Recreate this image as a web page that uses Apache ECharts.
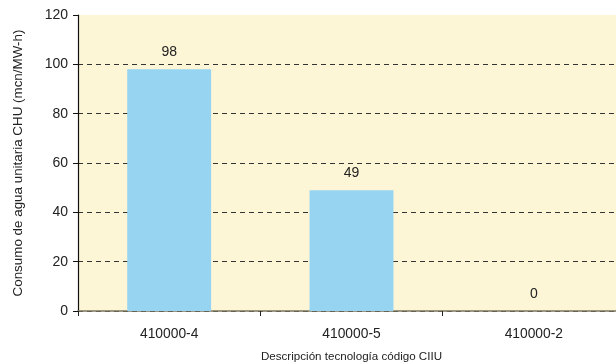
<!DOCTYPE html>
<html>
<head>
<meta charset="utf-8">
<script src="https://cdn.jsdelivr.net/npm/echarts@6/dist/echarts.min.js"></script>
<style>
  html, body { margin: 0; padding: 0; background: #ffffff; }
  #chart { width: 616px; height: 364px; }
</style>
</head>
<body>
<div id="chart"></div>
<script>
// Water consumption per technology code
const categories = ['410000-4', '410000-5', '410000-2'];
const consumo = [98, 49, 0];
const yTicks = { min: 0, max: 120, interval: 20 };

const chart = echarts.init(document.getElementById('chart'));
const font = 'Liberation Sans, Arial, sans-serif';

chart.setOption({
  animation: false,
  textStyle: { fontFamily: font },
  grid: {
    left: 78, top: 15, width: 547, height: 296,
    show: true, backgroundColor: '#fcf5d6', borderWidth: 0,
    containLabel: false,
    outerBoundsMode: 'none'
  },
  xAxis: {
    type: 'category',
    data: categories,
    name: 'Descripción tecnología código CIIU',
    nameLocation: 'middle',
    nameGap: 40,
    nameTextStyle: { fontSize: 11.6, color: '#222', fontFamily: font },
    axisLine: { lineStyle: { color: '#7a7560', width: 1.5 } },
    axisTick: { show: true, length: 5, lineStyle: { color: '#222' } },
    axisLabel: { fontSize: 13.8, color: '#222', margin: 16, fontFamily: font },
    splitLine: { show: false }
  },
  yAxis: {
    type: 'value',
    min: yTicks.min, max: yTicks.max, interval: yTicks.interval,
    name: 'Consumo de agua unitaria CHU (mcn/MW-h)',
    nameLocation: 'middle',
    nameGap: 53,
    nameTextStyle: { fontSize: 13.4, color: '#222', fontFamily: font },
    axisLine: { show: true, lineStyle: { color: '#111', width: 1.2 } },
    axisTick: { show: true, length: 5, lineStyle: { color: '#111' } },
    axisLabel: { fontSize: 14, color: '#222', margin: 10, fontFamily: font },
    splitLine: {
      show: true, showMaxLine: false,
      lineStyle: { color: '#333', type: [5, 4], width: 1 }
    }
  },
  series: [{
    type: 'bar',
    data: consumo,
    barWidth: '46%',
    itemStyle: { color: '#97d4f2' },
    label: {
      show: true, position: 'top', distance: 10,
      fontSize: 14, color: '#222', fontFamily: font
    }
  }]
});
</script>
</body>
</html>
